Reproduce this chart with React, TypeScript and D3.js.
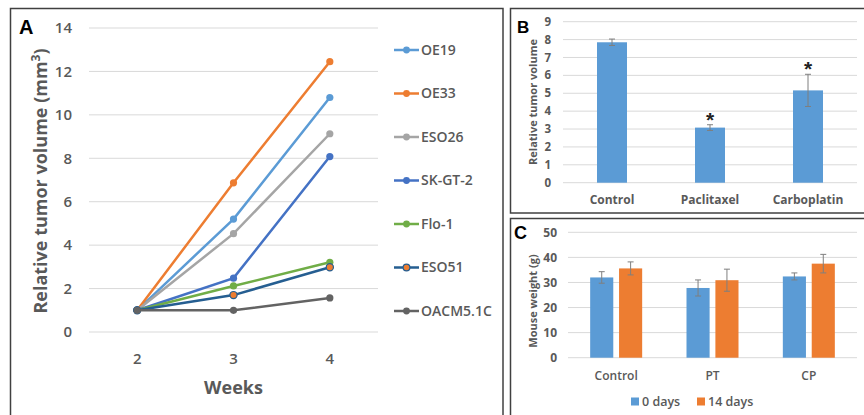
import React from "react";
import * as d3 from "d3";

// ---------- Panel A data ----------
const weeks = ["2", "3", "4"];
const seriesNames = ["OE19", "OE33", "ESO26", "SK-GT-2", "Flo-1", "ESO51", "OACM5.1C"];
const oe19 = [1, 5.2, 10.8];
const oe33 = [1, 6.87, 12.45];
const eso26 = [1, 4.53, 9.13];
const skgt2 = [1, 2.48, 8.08];
const flo1 = [1, 2.12, 3.21];
const eso51 = [1, 1.7, 2.98];
const oacm = [1, 1.0, 1.57];
const seriesValues = [oe19, oe33, eso26, skgt2, flo1, eso51, oacm];
const lineColors = ["#5B9BD5", "#ED7D31", "#A5A5A5", "#4472C4", "#70AD47", "#255E91", "#636363"];
const markerFills = ["#5B9BD5", "#ED7D31", "#A5A5A5", "#4472C4", "#70AD47", "#ED7D31", "#636363"];
const aTicks = [0, 2, 4, 6, 8, 10, 12, 14];

// ---------- Panel B data ----------
const bCats = ["Control", "Paclitaxel", "Carboplatin"];
const bValues = [7.85, 3.08, 5.16];
const bErrors = [0.18, 0.16, 0.9];
const bStars = [false, true, true];
const bTicks = [0, 1, 2, 3, 4, 5, 6, 7, 8, 9];

// ---------- Panel C data ----------
const cCats = ["Control", "PT", "CP"];
const cSeries = ["0 days", "14 days"];
const cDay0 = [32.0, 27.8, 32.4];
const cDay0Err = [2.3, 3.2, 1.4];
const cDay14 = [35.6, 30.9, 37.5];
const cDay14Err = [2.6, 4.4, 3.7];
const cTicks = [0, 10, 20, 30, 40, 50];
const cColors = ["#5B9BD5", "#ED7D31"];

const FONT = "'Open Sans', 'Noto Sans', sans-serif";
const TXT = "#595959";
const GRID = "#D9D9D9";

export default function App() {
  // Panel A scales
  const ax = d3.scalePoint<string>().domain(weeks).range([89, 378]).padding(0.5);
  const ay = d3.scaleLinear().domain([0, 14]).range([332, 28]);
  const line = d3
    .line<number>()
    .x((_, i) => ax(weeks[i]) as number)
    .y((d) => ay(d));
  const legendY = d3.scalePoint<string>().domain(seriesNames).range([50, 311]);

  // Panel B scales
  const bx = d3.scaleBand<string>().domain(bCats).range([563, 857]).padding(0);
  const by = d3.scaleLinear().domain([0, 9]).range([182.7, 21.7]);
  const bBarW = 30;

  // Panel C scales
  const cx = d3.scaleBand<string>().domain(cCats).range([568, 857]).padding(0);
  const cInner = d3.scaleBand<string>().domain(cSeries).range([-26, 26]).paddingInner(0.2);
  const cy = d3.scaleLinear().domain([0, 50]).range([357.7, 232.3]);
  const cVals = [cDay0, cDay14];
  const cErrs = [cDay0Err, cDay14Err];

  const errBar = (x: number, yTop: number, yBot: number, key: string, cap = 3) => (
    <g key={key} stroke="#7F7F7F" strokeWidth={1}>
      <line x1={x} x2={x} y1={yTop} y2={yBot} />
      <line x1={x - cap} x2={x + cap} y1={yTop} y2={yTop} />
      <line x1={x - cap} x2={x + cap} y1={yBot} y2={yBot} />
    </g>
  );

  return (
    <svg
      width={864}
      height={415}
      style={{ position: "absolute", left: 0, top: 0, background: "#fff" }}
      fontFamily={FONT}
    >
      <rect x={0} y={0} width={864} height={415} fill="#fff" />

      {/* Panel borders */}
      <rect x={10.5} y={8.5} width={492.5} height={430} fill="none" stroke="#404040" strokeWidth={1.5} />
      <rect x={510.5} y={8.5} width={370} height={204.5} fill="none" stroke="#404040" strokeWidth={1.5} />
      <rect x={510.5} y={218.5} width={370} height={220} fill="none" stroke="#404040" strokeWidth={1.5} />

      {/* ================= Panel A ================= */}
      <text x={19} y={34} fontFamily="Arial, 'Liberation Sans', sans-serif" fontWeight="bold" fontSize={20} fill="#000">
        A
      </text>
      {aTicks.map((t) => (
        <g key={"ag" + t}>
          <line x1={89} x2={378} y1={ay(t)} y2={ay(t)} stroke={GRID} strokeWidth={1} />
          <text x={72} y={ay(t)} dy="0.35em" textAnchor="end" fontSize={15} fontWeight={600} fill={TXT}>
            {t}
          </text>
        </g>
      ))}
      {weeks.map((w) => (
        <text key={"aw" + w} x={ax(w)} y={364} textAnchor="middle" fontSize={15} fontWeight={600} fill={TXT}>
          {w}
        </text>
      ))}
      <text x={233.5} y={394} textAnchor="middle" fontSize={18} fontWeight="bold" fill={TXT}>
        Weeks
      </text>
      <text
        transform={`translate(47,181) rotate(-90)`}
        textAnchor="middle"
        fontSize={18}
        fontWeight="bold"
        fill={TXT}
      >
        Relative tumor volume (mm<tspan dy={-7} fontSize={12}>3</tspan>
        <tspan dy={7}>)</tspan>
      </text>
      {seriesValues.map((vals, si) => (
        <g key={"as" + si}>
          <path d={line(vals) as string} fill="none" stroke={lineColors[si]} strokeWidth={2.5} />
          {vals.map((v, i) => (
            <circle
              key={i}
              cx={ax(weeks[i])}
              cy={ay(v)}
              r={3.6}
              fill={markerFills[si]}
              stroke={lineColors[si]}
              strokeWidth={si === 5 ? 1.2 : 0}
            />
          ))}
        </g>
      ))}
      {/* Legend A */}
      {seriesNames.map((n, si) => {
        const y = legendY(n) as number;
        return (
          <g key={"al" + n}>
            <line x1={394} x2={419} y1={y} y2={y} stroke={lineColors[si]} strokeWidth={2.5} />
            <circle cx={406.5} cy={y} r={3.4} fill={markerFills[si]} stroke={lineColors[si]} strokeWidth={si === 5 ? 1.2 : 0} />
            <text x={421} y={y} dy="0.35em" fontSize={14} fontWeight={600} fill={TXT}>
              {n}
            </text>
          </g>
        );
      })}

      {/* ================= Panel B ================= */}
      <text x={517} y={32.5} fontFamily="Arial, 'Liberation Sans', sans-serif" fontWeight="bold" fontSize={17} fill="#000">
        B
      </text>
      {bTicks.map((t) => (
        <g key={"bg" + t}>
          <line x1={563} x2={857} y1={by(t)} y2={by(t)} stroke={GRID} strokeWidth={1} />
          <text x={551} y={by(t)} dy="0.35em" textAnchor="end" fontSize={11.5} fontWeight="bold" fill={TXT}>
            {t}
          </text>
        </g>
      ))}
      <text
        transform={`translate(537,102) rotate(-90)`}
        textAnchor="middle"
        fontSize={11}
        fontWeight="bold"
        fill={TXT}
      >
        Relative tumor volume
      </text>
      {bCats.map((c, i) => {
        const xc = (bx(c) as number) + bx.bandwidth() / 2;
        const top = by(bValues[i]);
        const eTop = by(bValues[i] + bErrors[i]);
        const eBot = by(bValues[i] - bErrors[i]);
        return (
          <g key={"bb" + c}>
            <rect x={xc - bBarW / 2} y={top} width={bBarW} height={by(0) - top} fill="#5B9BD5" />
            {errBar(xc, eTop, eBot, "be" + c)}
            {bStars[i] && (
              <text x={xc} y={eTop - 10 + 12} textAnchor="middle" fontFamily="Arial, 'Liberation Sans', sans-serif" fontWeight="bold" fontSize={21} fill="#222">
                *
              </text>
            )}
            <text x={xc} y={204} textAnchor="middle" fontSize={12} fontWeight="bold" fill={TXT}>
              {c}
            </text>
          </g>
        );
      })}

      {/* ================= Panel C ================= */}
      <text x={514} y={238.5} fontFamily="Arial, 'Liberation Sans', sans-serif" fontWeight="bold" fontSize={18} fill="#000">
        C
      </text>
      {cTicks.map((t) => (
        <g key={"cg" + t}>
          <line x1={568} x2={857} y1={cy(t)} y2={cy(t)} stroke={GRID} strokeWidth={1} />
          <text x={557} y={cy(t)} dy="0.35em" textAnchor="end" fontSize={12} fontWeight="bold" fill={TXT}>
            {t}
          </text>
        </g>
      ))}
      <text
        transform={`translate(537,301) rotate(-90)`}
        textAnchor="middle"
        fontSize={11}
        fontWeight="bold"
        fill={TXT}
      >
        Mouse weight (g)
      </text>
      {cCats.map((c, i) => {
        const xc = (cx(c) as number) + cx.bandwidth() / 2;
        return (
          <g key={"cb" + c}>
            {cSeries.map((s, si) => {
              const x0 = xc + (cInner(s) as number);
              const w = cInner.bandwidth();
              const v = cVals[si][i];
              const e = cErrs[si][i];
              return (
                <g key={s}>
                  <rect x={x0} y={cy(v)} width={w} height={cy(0) - cy(v)} fill={cColors[si]} />
                  {errBar(x0 + w / 2, cy(v + e), cy(v - e), "ce" + c + s)}
                </g>
              );
            })}
            <text x={xc} y={380} textAnchor="middle" fontSize={12} fontWeight={600} fill={TXT}>
              {c}
            </text>
          </g>
        );
      })}
      {/* Legend C */}
      <rect x={631} y={397.5} width={8} height={8} fill={cColors[0]} />
      <text x={642} y={401.5} dy="0.35em" fontSize={12.5} fontWeight={600} fill={TXT}>
        {cSeries[0]}
      </text>
      <rect x={697} y={397.5} width={8} height={8} fill={cColors[1]} />
      <text x={708} y={401.5} dy="0.35em" fontSize={12.5} fontWeight={600} fill={TXT}>
        {cSeries[1]}
      </text>
    </svg>
  );
}
